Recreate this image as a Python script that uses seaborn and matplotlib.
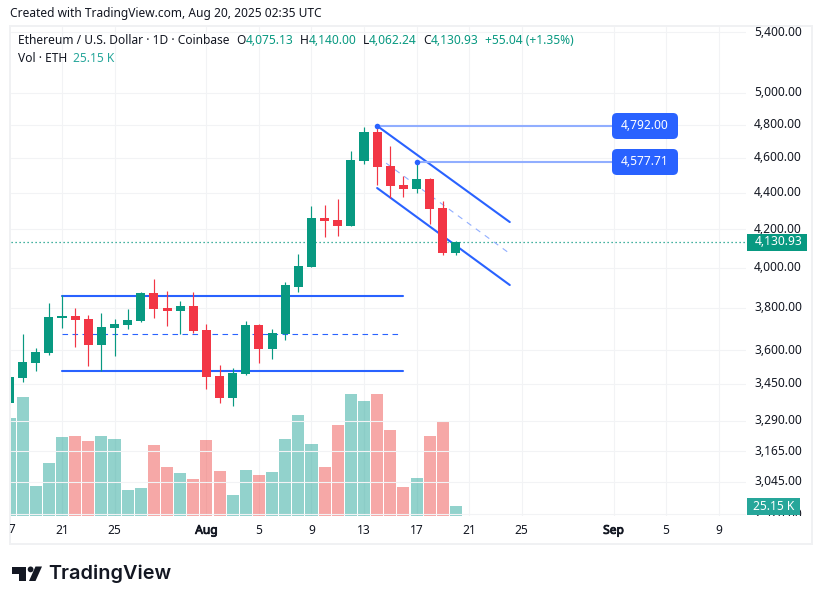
import matplotlib
matplotlib.use("Agg")
import matplotlib.patheffects as pe
import matplotlib.pyplot as plt
import pandas as pd
import seaborn as sns
from matplotlib.patches import Circle, FancyBboxPatch, Polygon, Rectangle
from matplotlib.ticker import NullLocator
from matplotlib.transforms import Affine2D, Bbox, IdentityTransform

# ── Data ──────────────────────────────────────────────────────────────────────

# days counted from Jul 21
days = list(range(-4, 31))
opens = [3365, 3474, 3541, 3587, 3750, 3760, 3746, 3624, 3703, 3717, 3736, 3872,
         3799, 3784, 3808, 3694, 3483, 3387, 3492, 3717, 3605, 3675, 3902, 4003,
         4261, 4250, 4217, 4582, 4755, 4553, 4444, 4421, 4478, 4315, 4075.13]
highs = [3523, 3675, 3609, 3823, 3862, 3799, 3765, 3774, 3746, 3794, 3877, 3942,
         3882, 3833, 3877, 3722, 3532, 3519, 3736, 3720, 3698, 3927, 4069, 4326,
         4332, 4365, 4641, 4785, 4792, 4671, 4495, 4576, 4484, 4354, 4140.00]
lows = [3335, 3456, 3505, 3578, 3703, 3614, 3528, 3505, 3573, 3698, 3731, 3750,
        3712, 3675, 3679, 3426, 3365, 3352, 3487, 3541, 3560, 3647, 3877, 4003,
        4159, 4164, 4217, 4565, 4444, 4371, 4376, 4399, 4228, 4064, 4062.24]
closes = [3479, 3546, 3591, 3755, 3760, 3741, 3624, 3708, 3722, 3741, 3872, 3794,
          3784, 3808, 3689, 3479, 3387, 3496, 3717, 3605, 3679, 3912, 4008, 4261,
          4244, 4217, 4588, 4755, 4547, 4438, 4421, 4478, 4310, 4075.89, 4130.93]
volumes = [246, 299, 75, 133, 199, 201, 189, 201, 194, 65, 70, 179, 123, 108, 93,
           191, 113, 53, 116, 103, 111, 194, 254, 181, 123, 229, 307, 289, 307,
           216, 73, 96, 201, 239, 25.15]

price_ticks = [5400, 5000, 4800, 4600, 4400, 4200, 4000, 3800, 3600, 3450, 3290,
               3165, 3045, 2920]
date_ticks = [0, 4, 11, 15, 19, 23, 27, 31, 35, 42, 46, 50]
date_labels = ["21", "25", "Aug", "5", "9", "13", "17", "21", "25", "Sep", "5", "9"]
bold_dates = ["Aug", "Sep"]

range_top, range_mid, range_low = 3857, 3675, 3505
range_days = [0, 26]
chan_days = [24, 34.1]
chan_upper = [4792, 4239]
chan_mid = [4608, 4072]
chan_lower = [4427, 3912]
marks = [(24, 4792.00, "4,792.00"), (27, 4577.71, "4,577.71")]
last_price = 4130.93

# ── Style ─────────────────────────────────────────────────────────────────────

W, H = 822, 604
GREEN = "#089981"
RED = "#F23645"
BLUE = "#2962FF"
PALE_BLUE = "#91AEFF"
TEAL = "#26A69A"
INK = "#131722"
GRID = "#F2F3F5"
FS = 8.64

sns.set_theme(style="white", rc={"axes.grid": False, "figure.dpi": 100, "savefig.dpi": 100})
plt.rcParams["font.family"] = ["Noto Sans", "DejaVu Sans"]


def fx(x):
    return x / W


def fy(y):
    return 1 - y / H


def label(x, y, text, color=INK, ha="left", size=FS, **kw):
    return fig.text(fx(x), fy(y), text, color=color, ha=ha, va="center", fontsize=size, zorder=20, **kw)


def pixel_tag(x, y, w, h, color, rounding=0):
    style = f"round,pad=0,rounding_size={rounding}" if rounding else "square,pad=0"
    fig.add_artist(FancyBboxPatch((x, H - y - h), w, h, boxstyle=style, fc=color, ec="none",
                                  transform=IdentityTransform(), zorder=15))


fig = plt.figure(figsize=(W / 100, H / 100), facecolor="white")
fig.add_artist(Rectangle((10, H - 544), 802, 518, fc="none", ec="#F0F1F3", lw=1.4,
                         transform=IdentityTransform()))

rect = [fx(11), fy(516), 735 / W, 489 / H]
ax_vol = fig.add_axes(rect)
ax = fig.add_axes(rect, sharex=ax_vol)
ax.patch.set_alpha(0)

# ── Volume ────────────────────────────────────────────────────────────────────

df = pd.DataFrame({"day": days, "volume": volumes})
df["dir"] = ["up" if c >= o else "down" for o, c in zip(opens, closes)]
sns.barplot(data=df, x="day", y="volume", hue="dir", hue_order=["up", "down"],
            palette={"up": TEAL, "down": "#EF5350"}, native_scale=True, dodge=False,
            width=0.92, alpha=0.5, saturation=1, linewidth=0, legend=False, ax=ax_vol)
ax_vol.set_ylim(0, 1230)
ax_vol.set_yticks([])
ax_vol.set_xlabel("")
ax_vol.set_ylabel("")
ax_vol.set_xlim(-3.884, 52.09)
ax_vol.set_xticks(date_ticks)
ax_vol.set_xticklabels(date_labels)
ax_vol.tick_params(axis="x", length=0, pad=5.6, labelsize=FS, labelcolor=INK)
ax_vol.grid(axis="x", color=GRID, lw=0.8)
ax_vol.set_axisbelow(True)
for tick, name in zip(ax_vol.get_xticklabels(), date_labels):
    if name in bold_dates:
        tick.set_path_effects([pe.withStroke(linewidth=0.6, foreground=INK)])
sns.despine(ax=ax_vol, left=True, right=True, top=True, bottom=True)

# ── Candles ───────────────────────────────────────────────────────────────────

ax.set_yscale("log")
ax.set_ylim(2914, 5436)
ax.yaxis.tick_right()
ax.set_yticks(price_ticks)
ax.set_yticklabels([f"{p:,.2f}" for p in price_ticks])
ax.yaxis.set_minor_locator(NullLocator())
ax.tick_params(axis="y", length=0, pad=40.3, labelsize=FS, labelcolor=INK)
ax.tick_params(axis="x", length=0, labelbottom=False)
clip_y = Bbox([[746, H - 516], [812, H - 27]])
for tick in ax.get_yticklabels():
    tick.set_ha("right")
    tick.set_va("center_baseline")
    # price labels sit a touch above their gridlines
    tick.set_transform(tick.get_transform() + Affine2D().translate(0, 1.6))
    tick.set_clip_box(clip_y)
    tick.set_clip_on(True)
ax.grid(axis="y", color=GRID, lw=0.8)
ax.set_axisbelow(True)
sns.despine(ax=ax, left=True, right=True, top=True, bottom=True)

# drawings sit under the candles
ax.axhline(last_price, color=GREEN, lw=0.9, ls=(0, (1, 2.2)), zorder=2)
ax.plot(range_days, [range_top] * 2, color=BLUE, lw=1.5, zorder=2)
ax.plot(range_days, [range_low] * 2, color=BLUE, lw=1.5, zorder=2)
ax.plot([0, 25.6], [range_mid] * 2, color=BLUE, lw=0.8, ls=(0, (5, 4)), zorder=2)
ax.plot(chan_days, chan_upper, color=BLUE, lw=1.5, zorder=2)
ax.plot(chan_days, chan_lower, color=BLUE, lw=1.5, zorder=2)
ax.plot(chan_days, chan_mid, color=PALE_BLUE, lw=0.8, ls=(0, (5, 5)), zorder=2)
for d, p, _ in marks:
    ax.plot([d, 42], [p, p], color=PALE_BLUE, lw=1.5, zorder=2, solid_capstyle="butt")

candle_colors = [GREEN if c >= o else RED for o, c in zip(opens, closes)]
ax.vlines(days, lows, highs, colors=candle_colors, lw=0.85, zorder=3)
ax.bar(days, [abs(c - o) for o, c in zip(opens, closes)],
       bottom=[min(o, c) for o, c in zip(opens, closes)],
       width=0.69, color=candle_colors, linewidth=0, zorder=4)
for d, p, _ in marks:
    ax.scatter([d], [p], s=16, color=BLUE, linewidths=0, zorder=6)
ax_vol.set_xlim(-3.884, 52.09)

# ── Tags and header ───────────────────────────────────────────────────────────

for y, (_, _, txt) in zip([113, 149], marks):
    pixel_tag(612, y, 66, 26, BLUE, rounding=5)
    label(645, y + 12.5, txt, color="white", ha="center")
pixel_tag(747, 234, 60, 17, GREEN)
label(802, 242, f"{last_price:,.2f}", color="white", ha="right")
pixel_tag(747, 498, 53, 17, TEAL)
label(794, 506.5, "25.15 K", color="white", ha="right")

# first date sits half outside the pane, only its last digit shows
first_date = label(9.5, 529.5, "17", ha="center")
first_date.set_clip_box(Bbox([[10, H - 544], [812, H - 516]]))
first_date.set_clip_on(True)

label(10, 14, "Created with TradingView.com, Aug 20, 2025 02:35 UTC")
label(18, 41, "Ethereum / U.S. Dollar · 1D · Coinbase")
for x, t in [(236, "O"), (300, "H"), (363, "L"), (423, "C")]:
    label(x, 41, t)
for x, t in [(246, "4,075.13"), (309, "4,140.00"), (369, "4,062.24"), (431, "4,130.93"),
             (485, "+55.04 (+1.35%)")]:
    label(x, 41, t, color=GREEN)
label(18, 58, "Vol · ETH")
label(73, 58, "25.15 K", color=TEAL)

# ── Logo ──────────────────────────────────────────────────────────────────────

logo = "#131722"
T_MARK = [(12, 566.5), (25.5, 566.5), (25.5, 581), (18.5, 581), (18.5, 573.5), (12, 573.5)]
SLASH = [(35.5, 566.5), (42, 566.5), (35.5, 581), (29, 581)]
for pts in (T_MARK, SLASH):
    fig.add_artist(Polygon([(x, H - y) for x, y in pts], fc=logo, ec="none",
                           transform=IdentityTransform()))
fig.add_artist(Circle((30.6, H - 569.4), 2.9, fc=logo, ec="none", transform=IdentityTransform()))
label(48.5, 574, "TradingView", color=logo, size=14.3, fontweight="semibold", family=["Inter", "DejaVu Sans"])

fig.savefig("out.png", dpi=100)
